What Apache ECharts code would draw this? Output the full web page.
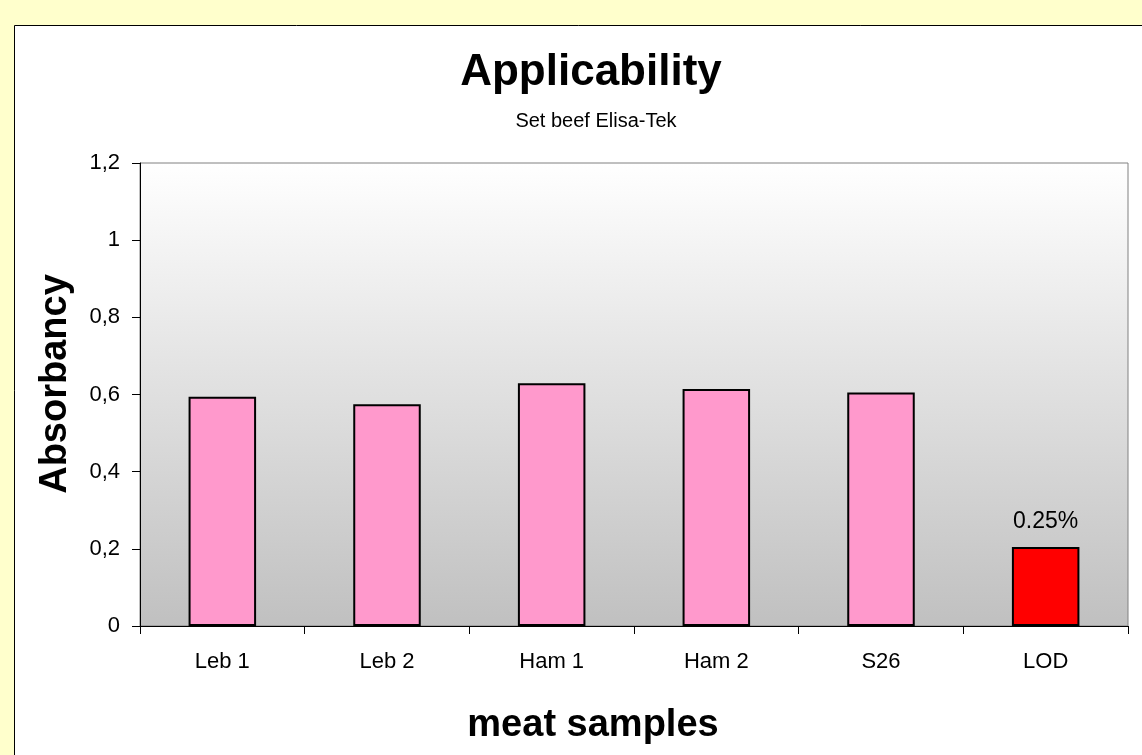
<!DOCTYPE html>
<html>
<head>
<meta charset="utf-8">
<style>
  html, body { margin: 0; padding: 0; background: #FFFFCC; }
  #chart { width: 1142px; height: 755px; }
</style>
<script src="https://cdn.jsdelivr.net/npm/echarts@6/dist/echarts.min.js"></script>
</head>
<body>
<div id="chart"></div>
<script>
// Absorbancy per meat sample (Set beef Elisa-Tek)
const categories = ['Leb 1', 'Leb 2', 'Ham 1', 'Ham 2', 'S26', 'LOD'];
const absorbancy = [0.594, 0.575, 0.629, 0.614, 0.605, 0.205];
const barColors = ['#FF99CC', '#FF99CC', '#FF99CC', '#FF99CC', '#FF99CC', '#FF0000'];
const barLabels = ['', '', '', '', '', '0.25%'];
const yTicks = { min: 0, max: 1.2, step: 0.2 };

const chart = echarts.init(document.getElementById('chart'), null, { renderer: 'canvas' });

const font = 'Liberation Sans, Arial, sans-serif';
const axisTitleFont = 'bold 38px ' + font;

chart.setOption({
  backgroundColor: '#FFFFCC',
  animation: false,
  graphic: [{
    type: 'rect',
    z: -10,
    shape: { x: 14.5, y: 25.5, width: 1140, height: 740 },
    style: { fill: '#FFFFFF', stroke: '#000000', lineWidth: 1 }
  }, {
    // y axis title
    type: 'text',
    x: 56, y: 384,
    rotation: Math.PI / 2,
    style: { text: 'Absorbancy', font: axisTitleFont, fill: '#000', align: 'center', verticalAlign: 'middle' }
  }, {
    // x axis title
    type: 'text',
    x: 593, y: 726,
    style: { text: 'meat samples', font: axisTitleFont, fill: '#000', align: 'center', verticalAlign: 'middle' }
  }],
  title: [{
    text: 'Applicability',
    left: 586, top: 46, textAlign: 'center',
    textStyle: { fontFamily: font, fontSize: 44, fontWeight: 'bold', color: '#000' }
  }, {
    text: 'Set beef Elisa-Tek',
    left: 591, top: 106, textAlign: 'center',
    textStyle: { fontFamily: font, fontSize: 20, fontWeight: 'normal', color: '#000' }
  }],
  grid: {
    left: 140, top: 163, right: 14, bottom: 129,
    show: true,
    borderColor: '#808080', borderWidth: 1,
    backgroundColor: new echarts.graphic.LinearGradient(0, 0, 0, 1, [
      { offset: 0, color: '#FFFFFF' },
      { offset: 1, color: '#C0C0C0' }
    ])
  },
  xAxis: {
    type: 'category',
    data: categories,
    axisLine: { lineStyle: { color: '#000', width: 1 } },
    axisTick: { show: true, length: 8, lineStyle: { color: '#000' } },
    axisLabel: { fontFamily: font, fontSize: 22, color: '#000', margin: 25 }
  },
  yAxis: {
    type: 'value',
    min: yTicks.min, max: yTicks.max, interval: yTicks.step,
    splitLine: { show: false },
    axisLine: { show: true, lineStyle: { color: '#000', width: 1 } },
    axisTick: { show: true, length: 8, lineStyle: { color: '#000' } },
    axisLabel: {
      fontFamily: font, fontSize: 22, color: '#000', margin: 20,
      formatter: v => String(Math.round(v * 10) / 10).replace('.', ',')
    }
  },
  series: [{
    type: 'bar',
    barWidth: '41%',
    data: absorbancy.map((v, i) => ({
      value: v,
      itemStyle: { color: barColors[i], borderColor: '#000', borderWidth: 2 },
      label: {
        show: barLabels[i] !== '',
        position: 'top',
        distance: 14,
        formatter: barLabels[i],
        fontFamily: font, fontSize: 23, color: '#000'
      }
    }))
  }]
});
</script>
</body>
</html>
